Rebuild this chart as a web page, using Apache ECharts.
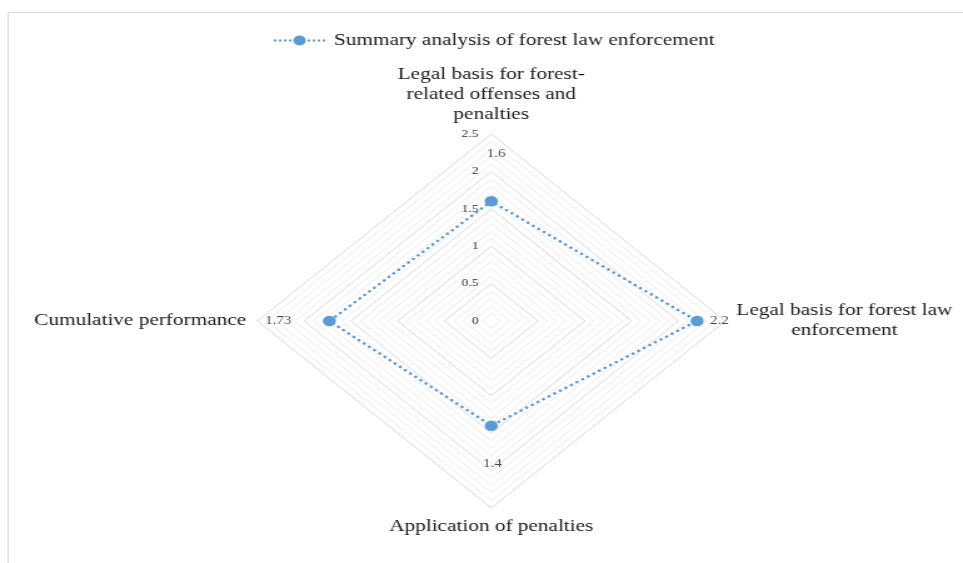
<!DOCTYPE html>
<html>
<head>
<meta charset="utf-8">
<script src="https://cdn.jsdelivr.net/npm/echarts@6/dist/echarts.min.js"></script>
<style>
html,body{margin:0;padding:0;background:#fff;overflow:hidden;}
#wrap{width:963px;height:563px;overflow:hidden;}
#chart{width:770px;height:563px;transform-origin:0 0;transform:scaleX(1.2506);}
</style>
</head>
<body>
<div id="wrap"><div id="chart"></div></div>
<script>
const seriesName = 'Summary analysis of forest law enforcement';
const indicatorNames = [
  'Legal basis for forest-\nrelated offenses and\npenalties',
  'Legal basis for forest law\nenforcement',
  'Application of penalties',
  'Cumulative performance'
];
const values = [1.6, 2.2, 1.4, 1.73];
const axisMax = 2.5;
const axisTickStep = 0.5;

// clockwise drawing order for the radar (ECharts lays indicators counter-clockwise)
const radarOrder = [0, 3, 2, 1];

const FONT = 'Liberation Serif';
const COLOR = '#5b9bd5';
const TEXT = '#1a1a1a';
const CENTER = [392.8, 321];
const RADIUS = 187;

const labelPlace = [
  {position: 'top', distance: 41, offset: [4, 0]},
  {position: 'right', distance: 10},
  {position: 'bottom', distance: 32, offset: [1, 0]},
  {position: 'left', distance: 30}
];

const legendIcon = 'path://M0 4h2v2h-2z M4 4h2v2h-2z M8 4h2v2h-2z M12 4h2v2h-2z M15.5 5a5 5 0 1 0 10 0a5 5 0 1 0 -10 0z M27 4h2v2h-2z M31 4h2v2h-2z M35 4h2v2h-2z M39 4h2v2h-2z';

const chart = echarts.init(document.getElementById('chart'));
const option = {
  backgroundColor: '#fff',
  animation: false,
  graphic: [{
    type: 'rect', shape: {x: 6.5, y: 12.5, width: 900, height: 600},
    style: {fill: 'none', stroke: '#d9d9d9', lineWidth: 1}, silent: true, z: -10
  }],
  legend: {
    top: 27, left: 214,
    data: [{name: seriesName, icon: legendIcon}],
    itemWidth: 41, itemHeight: 10, itemGap: 10,
    textStyle: {fontFamily: FONT, fontSize: 17, color: TEXT, padding: [0, 0, 0, 2]}
  },
  radar: {
    center: CENTER,
    radius: RADIUS,
    startAngle: 90,
    shape: 'polygon',
    splitNumber: 25,
    indicator: radarOrder.map(i => ({name: indicatorNames[i], min: 0, max: axisMax})),
    nameGap: 9,
    axisName: {
      fontFamily: FONT, fontSize: 17, color: TEXT, lineHeight: 20,
      formatter: n => n.split('\n').map(s => '{c|' + s + '}').join('\n'),
      rich: {c: {align: 'center', fontFamily: FONT, fontSize: 17, color: TEXT, lineHeight: 20}}
    },
    axisLine: {show: false},
    axisTick: {show: false},
    axisLabel: {show: false},
    splitArea: {show: false},
    splitLine: {lineStyle: {width: 1, color: ['#d9d9d9', '#ebebeb', '#ebebeb', '#ebebeb', '#ebebeb']}}
  },
  polar: {center: CENTER, radius: RADIUS},
  angleAxis: {type: 'value', min: 0, max: 360, startAngle: 90, clockwise: true, show: false},
  radiusAxis: {
    type: 'value', min: 0, max: axisMax, interval: axisTickStep,
    axisLine: {show: false}, axisTick: {show: false}, splitLine: {show: false},
    axisLabel: {fontFamily: FONT, fontSize: 11, color: '#333', margin: 10}
  },
  series: [
    {
      name: seriesName,
      type: 'radar',
      symbol: 'circle',
      symbolSize: 10.5,
      itemStyle: {color: COLOR},
      lineStyle: {color: COLOR, width: 2.6, type: [0.1, 5.2], cap: 'round'},
      data: [{name: seriesName, value: radarOrder.map(i => values[i])}]
    },
    {
      name: 'labels',
      type: 'scatter',
      coordinateSystem: 'polar',
      symbol: 'circle',
      symbolSize: 1,
      itemStyle: {color: 'rgba(0,0,0,0)'},
      silent: true,
      z: 5,
      label: {show: true, fontFamily: FONT, fontSize: 12, color: TEXT, formatter: p => String(p.value[0])},
      data: values.map((v, i) => ({
        value: [v, i * 360 / values.length],
        label: labelPlace[i]
      }))
    }
  ]
};
chart.setOption(option);
</script>
</body>
</html>
